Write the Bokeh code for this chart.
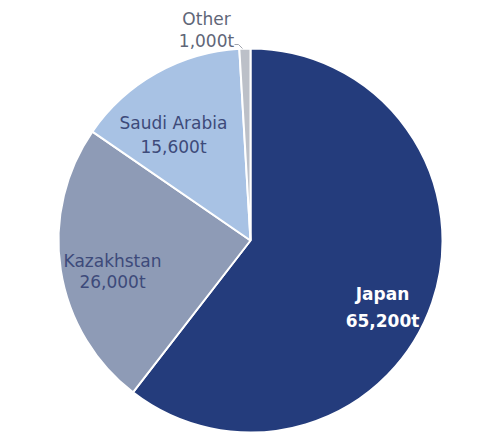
import math
from bokeh.plotting import figure
from bokeh.models import ColumnDataSource, Range1d
from bokeh.core.properties import value
from bokeh.embed import file_html
from bokeh.resources import INLINE

countries = ["Japan", "Kazakhstan", "Saudi Arabia", "Other"]
tonnes = [65200, 26000, 15600, 1000]
value_labels = ["65,200t", "26,000t", "15,600t", "1,000t"]
colors = ["#243c7c", "#8e9bb6", "#a8c2e4", "#bcc0c8"]

W, H = 469, 434
cx, cy, r = 250, H - 240, 192

total = sum(tonnes)
starts, ends = [], []
cum = 0
for t in tonnes:
    starts.append(math.pi / 2 - 2 * math.pi * cum / total)
    cum += t
    ends.append(math.pi / 2 - 2 * math.pi * cum / total)

src = ColumnDataSource(dict(x=[cx] * 4, y=[cy] * 4, start=starts, end=ends, color=colors))

p = figure(width=W, height=H, x_range=Range1d(0, W), y_range=Range1d(0, H),
           output_backend="svg", toolbar_location=None, min_border=0)
p.axis.visible = False
p.grid.visible = False
p.outline_line_color = None

p.wedge(x="x", y="y", radius=r, radius_units="screen", start_angle="start", end_angle="end",
        direction="clock", fill_color="color", line_color="white", line_width=2, source=src)

pos = [(382, 293, 320), (112, 260, 281), (173, 122, 146), (206, 18, 40)]
tcolors = ["white", "#3d4a7a", "#3d4a7a", "#5f6678"]
styles = ["bold", "normal", "normal", "normal"]
sizes = ["17px", "17px", "17px", "17px"]
for i in range(4):
    x, y1, y2 = pos[i]
    p.text(x=[x, x], y=[H - y1, H - y2], text=[countries[i], value_labels[i]],
           text_align="center", text_baseline="middle", text_font=value("DejaVu Sans"),
           text_font_size=sizes[i], text_color=tcolors[i], text_font_style=styles[i])

# leader line for "Other"
p.line(x=[234, 238, 242], y=[H - 44, H - 44, H - 48], line_color="#a0a4ac", line_width=1)

open("out.html", "w").write(file_html(p, INLINE))
